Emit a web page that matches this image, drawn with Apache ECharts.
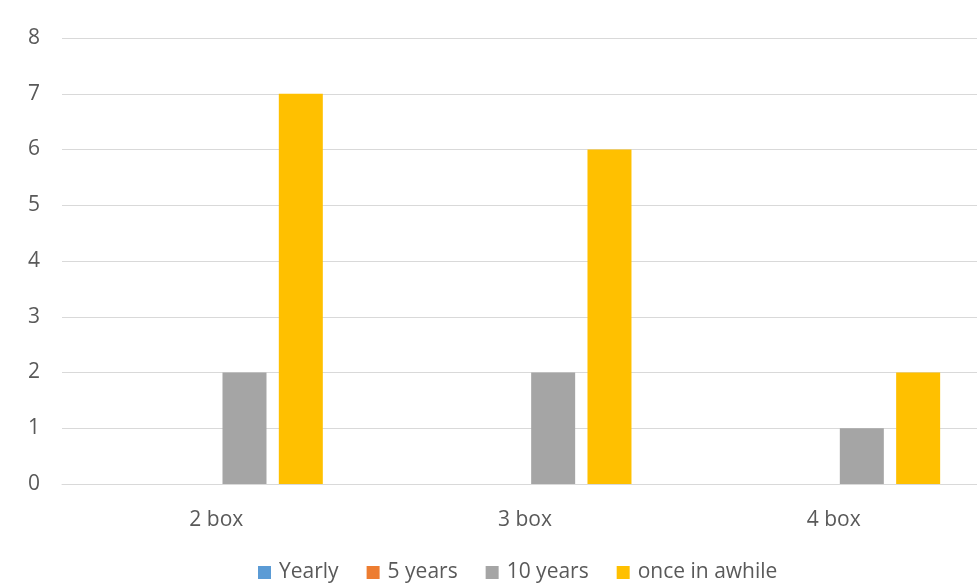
<!DOCTYPE html>
<html lang="en">
<head>
    <meta charset="UTF-8">
    <title>box chart</title>
    <style>
        body { margin: 0; overflow: hidden; background: #fff; }
        /* plot runs past the right edge of the window, like the cropped original */
        #chart { width: 988px; height: 584px; }
    </style>
</head>
<body>
    <div id="chart"></div>
    <script src="https://cdn.jsdelivr.net/npm/echarts@6/dist/echarts.min.js"></script>
    <script>
        // data
        var categories = ['2 box', '3 box', '4 box'];
        var seriesNames = ['Yearly', '5 years', '10 years', 'once in awhile'];
        var yearly = [0, 0, 0];
        var fiveYears = [0, 0, 0];
        var tenYears = [2, 2, 1];
        var onceInAwhile = [7, 6, 2];
        var colors = ['#5b9bd5', '#ed7d31', '#a5a5a5', '#ffc000'];

        var myChart = echarts.init(document.getElementById('chart'));
        var allData = [yearly, fiveYears, tenYears, onceInAwhile];

        var option = {
            animation: false,
            color: colors,
            textStyle: { fontFamily: 'Open Sans', color: '#595959' },
            grid: { left: 62, right: 0, top: 38, bottom: 100 },
            legend: {
                data: seriesNames,
                top: 557,
                left: 253,
                itemWidth: 13,
                itemHeight: 13,
                itemGap: 28,
                icon: 'rect',
                textStyle: { fontSize: 21, color: '#595959', fontFamily: 'Open Sans', padding: [0, 0, 0, 3] }
            },
            xAxis: {
                type: 'category',
                data: categories,
                axisTick: { show: false },
                axisLine: { lineStyle: { color: '#d9d9d9', width: 1 } },
                axisLabel: { fontSize: 21, color: '#595959', margin: 26 }
            },
            yAxis: {
                type: 'value',
                min: 0,
                max: 8,
                interval: 1,
                axisLine: { show: false },
                axisTick: { show: false },
                splitLine: { lineStyle: { color: '#d9d9d9', width: 1 } },
                axisLabel: { fontSize: 21, color: '#595959', margin: 22 }
            },
            series: seriesNames.map(function (name, i) {
                return {
                    name: name,
                    type: 'bar',
                    barWidth: 44,
                    barGap: '28%',
                    data: allData[i]
                };
            })
        };

        myChart.setOption(option);
    </script>
</body>
</html>
